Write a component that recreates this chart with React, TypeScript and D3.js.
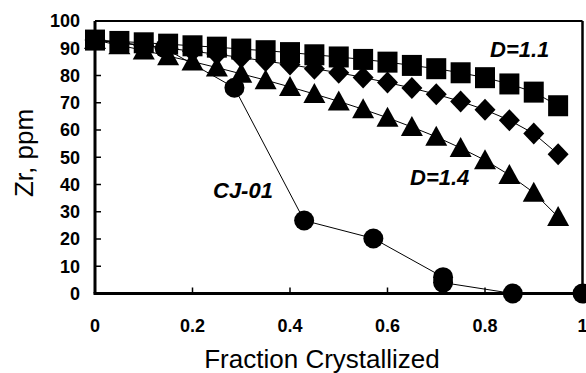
import React from "react";
import * as d3 from "d3";

const fraction = [0, 0.05, 0.1, 0.15, 0.2, 0.25, 0.3, 0.35, 0.4, 0.45, 0.5, 0.55, 0.6, 0.65, 0.7, 0.75, 0.8, 0.85, 0.9, 0.95];
const d11 = [93, 92.5, 92.0, 91.5, 90.9, 90.4, 89.7, 89.1, 88.4, 87.6, 86.8, 85.9, 84.9, 83.7, 82.5, 81.0, 79.2, 76.9, 73.9, 68.9];
const d12 = [93, 92.1, 91.1, 90.0, 88.9, 87.8, 86.6, 85.3, 84.0, 82.5, 81.0, 79.3, 77.4, 75.4, 73.1, 70.5, 67.4, 63.6, 58.7, 51.1];
const d14 = [93, 91.1, 89.2, 87.1, 85.1, 82.9, 80.6, 78.3, 75.8, 73.2, 70.5, 67.6, 64.5, 61.1, 57.5, 53.4, 48.9, 43.5, 37.0, 28.1];
const cjF = [0, 0.143, 0.286, 0.429, 0.571, 0.714, 0.714, 0.857, 1.0];
const cjZr = [93, 90, 75.5, 26.8, 20.2, 6, 4, 0, 0];

const xTicks = [0, 0.2, 0.4, 0.6, 0.8, 1];
const xTickLabels = ["0", "0.2", "0.4", "0.6", "0.8", "1"];
const yTicks = [0, 10, 20, 30, 40, 50, 60, 70, 80, 90, 100];

const W = 586;
const H = 373;
const font = "'Liberation Sans', Arial, sans-serif";

export default function App() {
  const x = d3.scaleLinear().domain([0, 1]).range([95, 582.5]);
  const y = d3.scaleLinear().domain([0, 100]).range([293.5, 21]);

  const toPts = (xs: number[], ys: number[]) => xs.map((v, i) => [v, ys[i]] as [number, number]);
  const line = d3
    .line<[number, number]>()
    .x((d) => x(d[0]))
    .y((d) => y(d[1]));

  const sq = toPts(fraction, d11);
  const dia = toPts(fraction, d12);
  const tri = toPts(fraction, d14);
  const cj = toPts(cjF, cjZr);

  return (
    <svg width={W} height={H} style={{ position: "absolute", left: 0, top: 0, background: "#fff" }} fontFamily={font}>
      <rect width={W} height={H} fill="#fff" />

      {/* frame */}
      <line x1={x(0)} x2={x(1)} y1={y(100)} y2={y(100)} stroke="#000" strokeWidth={2} />
      <line x1={x(1)} x2={x(1)} y1={y(100)} y2={y(0)} stroke="#000" strokeWidth={2.5} />

      {/* CJ-01 */}
      <path d={line(cj) || ""} fill="none" stroke="#000" strokeWidth={1} />
      {cj.map((d, i) => (
        <circle key={"c" + i} cx={x(d[0])} cy={y(d[1])} r={10} fill="#000" />
      ))}

      {/* D=1.4 triangles */}
      <path d={line(tri) || ""} fill="none" stroke="#000" strokeWidth={1} />
      {tri.map((d, i) => {
        const cx = x(d[0]);
        const cy = y(d[1]);
        return <path key={"t" + i} d={`M${cx},${cy - 11}L${cx + 11},${cy + 9}L${cx - 11},${cy + 9}Z`} fill="#000" />;
      })}

      {/* D=1.2 diamonds */}
      <path d={line(dia) || ""} fill="none" stroke="#000" strokeWidth={1} />
      {dia.map((d, i) => {
        const cx = x(d[0]);
        const cy = y(d[1]);
        return <path key={"d" + i} d={`M${cx},${cy - 11}L${cx + 10.5},${cy}L${cx},${cy + 11}L${cx - 10.5},${cy}Z`} fill="#000" />;
      })}

      {/* D=1.1 squares */}
      <path d={line(sq) || ""} fill="none" stroke="#000" strokeWidth={1} />
      {sq.map((d, i) => (
        <rect key={"s" + i} x={x(d[0]) - 10} y={y(d[1]) - 10.5} width={20} height={21} fill="#000" />
      ))}

      {/* axes */}
      <line x1={x(0)} x2={x(0)} y1={y(100)} y2={y(0)} stroke="#000" strokeWidth={3} />
      <line x1={x(0) - 1.5} x2={x(1)} y1={y(0)} y2={y(0)} stroke="#000" strokeWidth={3} />
      {yTicks.map((t) => (
        <g key={"yt" + t}>
          <line x1={x(0)} x2={x(0) + 6} y1={y(t)} y2={y(t)} stroke="#000" strokeWidth={1.5} />
          <text x={80} y={y(t)} dy="0.36em" textAnchor="end" fontSize={18} fontWeight="bold">
            {t}
          </text>
        </g>
      ))}
      {xTicks.map((t, i) => (
        <g key={"xt" + t}>
          {t > 0 && t < 1 && (
            <line x1={x(t)} x2={x(t)} y1={y(0)} y2={y(0) - 6} stroke="#000" strokeWidth={1.5} />
          )}
          <text x={x(t)} y={332} textAnchor="middle" fontSize={18} fontWeight="bold">
            {xTickLabels[i]}
          </text>
        </g>
      ))}

      {/* axis titles */}
      <text x={322} y={368} textAnchor="middle" fontSize={26}>
        Fraction Crystallized
      </text>
      <text transform="translate(33,153) rotate(-90)" textAnchor="middle" fontSize={26}>
        Zr, ppm
      </text>

      {/* annotations */}
      <text x={490} y={57} fontSize={22} fontWeight="bold" fontStyle="italic">
        D=1.1
      </text>
      <text x={410} y={185} fontSize={22} fontWeight="bold" fontStyle="italic">
        D=1.4
      </text>
      <text x={213} y={198} fontSize={22} fontWeight="bold" fontStyle="italic">
        CJ-01
      </text>
    </svg>
  );
}
